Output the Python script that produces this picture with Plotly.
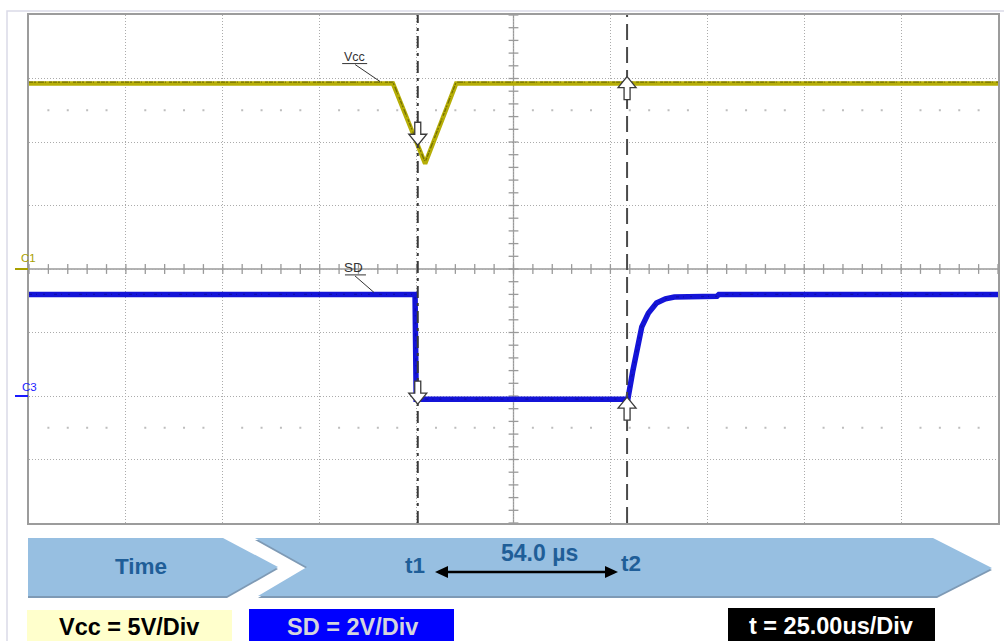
import numpy as np
import plotly.graph_objects as go

W, H = 1004, 641

# ---- scope settings -------------------------------------------------------
TIME_PER_DIV = 25.0          # us / div
N_XDIV, N_YDIV = 10, 8
VCC_SCALE = 5.0              # V / div
SD_SCALE = 2.0               # V / div
VCC_GND_DIV = 0.0            # C1 ground marker (div from centre)
SD_GND_DIV = -2.0            # C3 ground marker (div from centre)
PX_PER_DIV = 508 / N_YDIV    # vertical size of one division on screen

# cursor positions (us)
T1 = 100.3
T2 = 154.3
DELTA_LABEL = "54.0 µs"

# ---- waveforms ------------------------------------------------------------
vcc_t = [0.0, 93.9, 102.2, 110.2, 250.0]
vcc_v = [14.6, 14.6, 8.3, 14.6, 14.6]

sd_t = [0.0, 99.6, 99.9, 154.5, 155.8, 156.8, 158.1, 159.8, 161.9, 164.2,
        166.5, 177.5, 178.0, 250.0]
sd_v = [3.2, 3.2, -0.1, -0.1, 0.8, 1.45, 2.18, 2.61, 2.93, 3.06,
        3.12, 3.14, 3.2, 3.2]

VCC_COLOR = "#B6AE06"
SD_COLOR = "#1414D8"
GRID = "#ABABAB"
TICK = "#9A9A9A"
FONT = "Arial, Liberation Sans, sans-serif"


def vcc_div(v):
    return np.asarray(v) / VCC_SCALE + VCC_GND_DIV


def sd_div(v):
    return np.asarray(v) / SD_SCALE + SD_GND_DIV


def px(x):
    return x / W


def py(y):
    return 1 - y / H


def poly(points):
    return "M " + " L ".join(f"{px(x):.5f},{py(y):.5f}" for x, y in points) + " Z"


fig = go.Figure()

# minor tick marks on the centre lines
xc = TIME_PER_DIV * N_XDIV / 2
minor_x = np.arange(0, TIME_PER_DIV * N_XDIV + 0.01, TIME_PER_DIV / 5)
minor_y = np.arange(-N_YDIV / 2, N_YDIV / 2 + 0.01, 0.2)
fig.add_trace(go.Scatter(x=minor_x, y=np.zeros_like(minor_x), mode="markers",
                         marker=dict(symbol="line-ns-open", size=7, color=TICK,
                                     line=dict(color=TICK, width=1.3)),
                         hoverinfo="skip"))
fig.add_trace(go.Scatter(x=np.full_like(minor_y, xc), y=minor_y, mode="markers",
                         marker=dict(symbol="line-ew-open", size=7, color=TICK,
                                     line=dict(color=TICK, width=1.3)),
                         hoverinfo="skip"))

# dotted rows of minor graticule points
dots_x = [x for x in minor_x if abs(x / TIME_PER_DIV - round(x / TIME_PER_DIV)) > 1e-6]
for row in (2.5, -2.5):
    fig.add_trace(go.Scatter(x=dots_x, y=[row] * len(dots_x), mode="markers",
                             marker=dict(symbol="square", size=2, color="#BDBDBD"),
                             hoverinfo="skip"))

# signals
fig.add_trace(go.Scatter(x=vcc_t, y=vcc_div(vcc_v), mode="lines",
                         line=dict(color=VCC_COLOR, width=4.5), hoverinfo="skip"))
# acquisition noise along the upper edge of the Vcc trace
fig.add_trace(go.Scatter(x=vcc_t, y=vcc_div(vcc_v) + 1.4 / PX_PER_DIV, mode="lines",
                         line=dict(color="#5E5A00", width=1.3,
                                   dash="4px,1px,2px,2px,6px,1px,1px,3px,3px,1px"),
                         opacity=0.75, hoverinfo="skip"))
fig.add_trace(go.Scatter(x=sd_t, y=sd_div(sd_v), mode="lines",
                         line=dict(color=SD_COLOR, width=5.5), hoverinfo="skip"))
fig.add_trace(go.Scatter(x=sd_t, y=sd_div(sd_v), mode="lines",
                         line=dict(color="#0A0A80", width=1.2,
                                   dash="3px,4px,1px,6px,2px,9px"),
                         opacity=0.5, hoverinfo="skip"))

shapes = []
# centre cross-hair
shapes.append(dict(type="line", xref="x", yref="y", x0=xc, x1=xc,
                   y0=-N_YDIV / 2, y1=N_YDIV / 2, layer="below",
                   line=dict(color=TICK, width=1.3)))
shapes.append(dict(type="line", xref="x", yref="y", x0=0, x1=TIME_PER_DIV * N_XDIV,
                   y0=0, y1=0, layer="below",
                   line=dict(color=TICK, width=1.3)))

# cursors
shapes.append(dict(type="line", xref="x", yref="y", x0=T1, x1=T1,
                   y0=-N_YDIV / 2, y1=N_YDIV / 2,
                   line=dict(color="#3A3A3A", width=2, dash="12px,5px,3px,5px")))
shapes.append(dict(type="line", xref="x", yref="y", x0=T2, x1=T2,
                   y0=-N_YDIV / 2, y1=N_YDIV / 2,
                   line=dict(color="#4A4A4A", width=2, dash="16px,7px")))


def arrow_path(direction, tip_off, length=23, head=11, head_w=9, shaft_w=3):
    s = 1 if direction == "up" else -1
    t = tip_off
    pts = [(0, t), (head_w, t - s * head), (shaft_w, t - s * head),
           (shaft_w, t - s * length), (-shaft_w, t - s * length),
           (-shaft_w, t - s * head), (-head_w, t - s * head)]
    return "M " + " L ".join(f"{x},{y}" for x, y in pts) + " Z"


def marker_arrow(t, ydiv, direction, tip_off):
    return dict(type="path", xref="x", yref="y", xsizemode="pixel",
                ysizemode="pixel", xanchor=t, yanchor=float(ydiv),
                path=arrow_path(direction, tip_off), fillcolor="white",
                line=dict(color="#3A3A3A", width=1.3))


vcc_at_t1 = vcc_div(np.interp(T1, vcc_t, vcc_v))
vcc_at_t2 = vcc_div(np.interp(T2, vcc_t, vcc_v))
sd_at_t1 = sd_div(np.interp(T1, sd_t, sd_v))
sd_at_t2 = sd_div(np.interp(T2, sd_t, sd_v))
shapes.append(marker_arrow(T1, vcc_at_t1, "down", 0))
shapes.append(marker_arrow(T1, sd_at_t1, "down", -5))
shapes.append(marker_arrow(T2, vcc_at_t2, "up", 7))
shapes.append(marker_arrow(T2, sd_at_t2, "up", 2))

# trace name call-outs (underline + leader)
VCC_TAG_T, SD_TAG_T = 90.6, 89.0
vcc_tag_y = float(vcc_div(np.interp(VCC_TAG_T, vcc_t, vcc_v)))
sd_tag_y = float(sd_div(np.interp(SD_TAG_T, sd_t, sd_v)))
shapes.append(dict(type="path", xref="x", yref="y", xsizemode="pixel",
                   ysizemode="pixel", xanchor=VCC_TAG_T, yanchor=vcc_tag_y,
                   path="M -38,20 L -13,20 M -25,19 L 0,2",
                   line=dict(color="#333333", width=1)))
shapes.append(dict(type="path", xref="x", yref="y", xsizemode="pixel",
                   ysizemode="pixel", xanchor=SD_TAG_T, yanchor=sd_tag_y,
                   path="M -29,19.5 L -8,19.5 M -19,18.5 L 0,2",
                   line=dict(color="#333333", width=1)))

# channel ground markers
shapes.append(dict(type="line", xref="paper", yref="y", x0=px(15), x1=px(28),
                   y0=VCC_GND_DIV, y1=VCC_GND_DIV, line=dict(color="#A8A000", width=2)))
shapes.append(dict(type="line", xref="paper", yref="y", x0=px(15), x1=px(28),
                   y0=SD_GND_DIV, y1=SD_GND_DIV, line=dict(color="#1A1AFF", width=2)))

# outer frame
shapes.append(dict(type="path", xref="paper", yref="paper",
                   path=f"M {px(7)},0 L {px(7)},{py(11)} L 1,{py(11)}",
                   line=dict(color="#DADAE8", width=1.5), layer="below"))

# time banner (shadow first, then face)
BANNER = "#97BFE1"
SHADOW = "#7E9AB5"
time_tab = [(28, 538), (223, 538), (278, 567), (227, 596), (28, 596)]
cursor_tab = [(255, 538), (933, 538), (992, 568), (937, 596), (258, 596), (307, 567)]
for pts in (time_tab, cursor_tab):
    shapes.append(dict(type="path", xref="paper", yref="paper",
                       path=poly([(x, y + 2) for x, y in pts]),
                       fillcolor=SHADOW, line=dict(width=0)))
    shapes.append(dict(type="path", xref="paper", yref="paper", path=poly(pts),
                       fillcolor=BANNER, line=dict(width=0)))

# delta arrow between t1 and t2
ay = 572
shapes.append(dict(type="line", xref="paper", yref="paper", x0=px(445), x1=px(607),
                   y0=py(ay), y1=py(ay), line=dict(color="black", width=2.5)))
shapes.append(dict(type="path", xref="paper", yref="paper",
                   path=poly([(435, ay), (448, ay - 6), (448, ay + 6)]),
                   fillcolor="black", line=dict(width=0)))
shapes.append(dict(type="path", xref="paper", yref="paper",
                   path=poly([(618, ay), (605, ay - 6), (605, ay + 6)]),
                   fillcolor="black", line=dict(width=0)))

# scale boxes
boxes = [((27, 610, 232, 645), "#FFFFCC"),
         ((249, 609, 454, 645), "#0000FF"),
         ((728, 608, 935, 645), "#000000")]
for (x0, y0, x1, y1), c in boxes:
    shapes.append(dict(type="rect", xref="paper", yref="paper", x0=px(x0), x1=px(x1),
                       y0=py(y1), y1=py(y0), fillcolor=c, line=dict(width=0)))

annotations = []


def label(text, x, y, size, color, bold=True):
    annotations.append(dict(text=f"<b>{text}</b>" if bold else text,
                            xref="paper", yref="paper", x=px(x), y=py(y),
                            showarrow=False, xanchor="center", yanchor="middle",
                            font=dict(family=FONT, size=size, color=color)))


BLUE_TXT = "#1F5E98"
label("Time", 141, 566, 22.5, BLUE_TXT)
label("t1", 415, 565, 22.5, BLUE_TXT)
label(DELTA_LABEL, 539, 553, 23, BLUE_TXT)
label("t2", 631, 563, 22.5, BLUE_TXT)
label(f"Vcc = {VCC_SCALE:g}V/Div", 129, 627, 23.5, "#000000")
label(f"SD = {SD_SCALE:g}V/Div", 352, 627, 23.5, "#D4D4DC")
label(f"t = {TIME_PER_DIV:.2f}us/Div", 831, 626, 23.5, "#FFFFFF")

# channel tags
annotations.append(dict(text="C1", xref="paper", yref="y", x=px(19), y=VCC_GND_DIV,
                        yshift=11, showarrow=False,
                        font=dict(family=FONT, size=11.5, color="#A8A000")))
annotations.append(dict(text="C3", xref="paper", yref="y", x=px(20), y=SD_GND_DIV,
                        yshift=9, showarrow=False,
                        font=dict(family=FONT, size=11.5, color="#1A1AFF")))

# trace names
annotations.append(dict(text="Vcc", xref="x", yref="y", x=VCC_TAG_T, y=vcc_tag_y,
                        xshift=-26, yshift=27, showarrow=False,
                        font=dict(family=FONT, size=12.5, color="#333333")))
annotations.append(dict(text="SD", xref="x", yref="y", x=SD_TAG_T, y=sd_tag_y,
                        xshift=-20, yshift=27, showarrow=False,
                        font=dict(family=FONT, size=13.5, color="#333333")))

fig.update_layout(
    width=W, height=H, margin=dict(l=0, r=0, t=0, b=0),
    paper_bgcolor="white", plot_bgcolor="white",
    showlegend=False, hovermode=False,
    shapes=shapes, annotations=annotations,
    xaxis=dict(domain=[29 / W, 998 / W], range=[0, TIME_PER_DIV * N_XDIV],
               dtick=TIME_PER_DIV, tick0=0, showticklabels=False, ticks="",
               showgrid=True, gridcolor=GRID, gridwidth=1, griddash="1px,2px",
               zeroline=False, showline=True, mirror=True,
               linecolor="#9C9C9C", linewidth=1.5, fixedrange=True),
    yaxis=dict(domain=[1 - 523 / H, 1 - 15 / H], range=[-N_YDIV / 2, N_YDIV / 2],
               dtick=1, tick0=0, showticklabels=False, ticks="",
               showgrid=True, gridcolor=GRID, gridwidth=1, griddash="1px,2px",
               zeroline=False, showline=True, mirror=True,
               linecolor="#9C9C9C", linewidth=1.5, fixedrange=True),
)

fig.write_html("out.html")
